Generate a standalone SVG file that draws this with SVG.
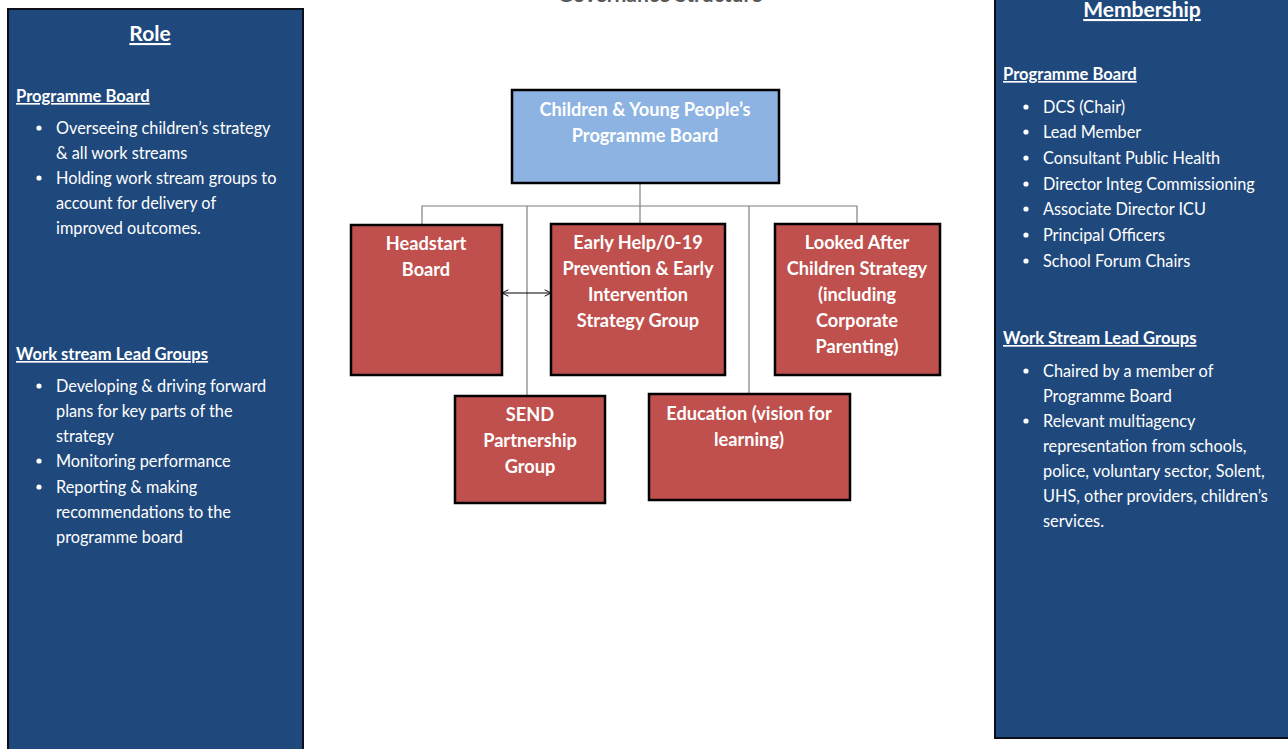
<svg xmlns="http://www.w3.org/2000/svg" width="1288" height="749" viewBox="0 0 1288 749">
  <defs>
    <marker id="arrow" viewBox="0 0 10 10" refX="9" refY="5" markerWidth="8" markerHeight="8" orient="auto-start-reverse" markerUnits="userSpaceOnUse">
      <path d="M1,1 L9,5 L1,9" fill="none" stroke="#000" stroke-width="1.2"/>
    </marker>
  </defs>
  <style>
    .panel { fill: #1F497D; stroke: #0a0f1a; stroke-width: 2; }
    .head { font-family: Lato, "Open Sans", sans-serif; font-weight: bold; fill: #fff; text-decoration: underline; }
    .item { font-family: Lato, "Open Sans", sans-serif; font-size: 16.3px; fill: #fff; }
    .dot { fill: #fff; }
    .blue { fill: #8DB3E2; stroke: #000; stroke-width: 2.5; }
    .red { fill: #C0504D; stroke: #000; stroke-width: 2.5; }
    .lbl { font-family: Lato, "Open Sans", sans-serif; font-size: 18.2px; font-weight: bold; fill: #fff; text-anchor: middle; }
    .conn { stroke: #7f7f7f; stroke-width: 1.2; fill: none; }
  </style>

  <rect width="1288" height="749" fill="#fff"/>

  <!-- page title, mostly above the top edge -->
  <text x="660" y="2" font-family="Lato, 'Open Sans', sans-serif" font-size="21" font-weight="bold" fill="#595959" text-anchor="middle">Governance Structure</text>

  <!-- left panel: roles -->
  <g id="role-panel">
    <rect class="panel" x="8" y="9" width="295" height="750"/>
    <text class="head" x="150" y="41" font-size="21" text-anchor="middle">Role</text>
    <text class="head" x="16" y="102" font-size="16.6">Programme Board</text>
    <circle class="dot" cx="39" cy="128" r="2.6"/>
    <text class="item" x="56" y="134">Overseeing children’s strategy</text>
    <text class="item" x="56" y="159">&amp; all work streams</text>
    <circle class="dot" cx="39" cy="178" r="2.6"/>
    <text class="item" x="56" y="184">Holding work stream groups to</text>
    <text class="item" x="56" y="209">account for delivery of</text>
    <text class="item" x="56" y="234">improved outcomes.</text>
    <text class="head" x="16" y="360" font-size="16.6">Work stream Lead Groups</text>
    <circle class="dot" cx="39" cy="386" r="2.6"/>
    <text class="item" x="56" y="392">Developing &amp; driving forward</text>
    <text class="item" x="56" y="417">plans for key parts of the</text>
    <text class="item" x="56" y="442">strategy</text>
    <circle class="dot" cx="39" cy="461" r="2.6"/>
    <text class="item" x="56" y="467">Monitoring performance</text>
    <circle class="dot" cx="39" cy="487" r="2.6"/>
    <text class="item" x="56" y="493">Reporting &amp; making</text>
    <text class="item" x="56" y="518">recommendations to the</text>
    <text class="item" x="56" y="543">programme board</text>
  </g>

  <!-- right panel: membership -->
  <g id="membership-panel">
    <rect class="panel" x="995" y="-20" width="300" height="758"/>
    <text class="head" x="1142" y="17" font-size="21" text-anchor="middle">Membership</text>
    <text class="head" x="1003" y="80" font-size="16.6">Programme Board</text>
    <circle class="dot" cx="1026" cy="107" r="2.6"/>
    <text class="item" x="1043" y="113">DCS (Chair)</text>
    <circle class="dot" cx="1026" cy="132" r="2.6"/>
    <text class="item" x="1043" y="138">Lead Member</text>
    <circle class="dot" cx="1026" cy="158" r="2.6"/>
    <text class="item" x="1043" y="164">Consultant Public Health</text>
    <circle class="dot" cx="1026" cy="184" r="2.6"/>
    <text class="item" x="1043" y="190">Director Integ Commissioning</text>
    <circle class="dot" cx="1026" cy="209" r="2.6"/>
    <text class="item" x="1043" y="215">Associate Director ICU</text>
    <circle class="dot" cx="1026" cy="235" r="2.6"/>
    <text class="item" x="1043" y="241">Principal Officers</text>
    <circle class="dot" cx="1026" cy="261" r="2.6"/>
    <text class="item" x="1043" y="267">School Forum Chairs</text>
    <text class="head" x="1003" y="344" font-size="16.6">Work Stream Lead Groups</text>
    <circle class="dot" cx="1026" cy="371" r="2.6"/>
    <text class="item" x="1043" y="377">Chaired by a member of</text>
    <text class="item" x="1043" y="402">Programme Board</text>
    <circle class="dot" cx="1026" cy="421" r="2.6"/>
    <text class="item" x="1043" y="427">Relevant multiagency</text>
    <text class="item" x="1043" y="452">representation from schools,</text>
    <text class="item" x="1043" y="477">police, voluntary sector, Solent,</text>
    <text class="item" x="1043" y="502">UHS, other providers, children’s</text>
    <text class="item" x="1043" y="527">services.</text>
  </g>

  <!-- connectors -->
  <g id="connectors">
    <path class="conn" d="M640,183 V206"/>
    <path class="conn" d="M422,225 V206 H857 V224"/>
    <path class="conn" d="M640,206 V224"/>
    <path class="conn" d="M527,206 V396"/>
    <path class="conn" d="M749,206 V394"/>
    <line x1="502" y1="293" x2="551" y2="293" stroke="#000" stroke-width="1" marker-start="url(#arrow)" marker-end="url(#arrow)"/>
  </g>

  <g id="programme-board">
    <rect class="blue" x="512" y="90" width="267" height="93"/>
    <text class="lbl" x="645" y="116">Children &amp; Young People’s</text>
    <text class="lbl" x="645" y="142">Programme Board</text>
  </g>

  <g id="headstart-board">
    <rect class="red" x="351" y="225" width="151" height="150"/>
    <text class="lbl" x="426" y="250">Headstart</text>
    <text class="lbl" x="426" y="276">Board</text>
  </g>

  <g id="early-help">
    <rect class="red" x="551" y="224" width="174" height="151"/>
    <text class="lbl" x="638" y="249">Early Help/0-19</text>
    <text class="lbl" x="638" y="275">Prevention &amp; Early</text>
    <text class="lbl" x="638" y="301">Intervention</text>
    <text class="lbl" x="638" y="327">Strategy Group</text>
  </g>

  <g id="looked-after">
    <rect class="red" x="775" y="224" width="165" height="151"/>
    <text class="lbl" x="857" y="249">Looked After</text>
    <text class="lbl" x="857" y="275">Children Strategy</text>
    <text class="lbl" x="857" y="301">(including</text>
    <text class="lbl" x="857" y="327">Corporate</text>
    <text class="lbl" x="857" y="353">Parenting)</text>
  </g>

  <g id="send-partnership">
    <rect class="red" x="455" y="396" width="150" height="107"/>
    <text class="lbl" x="530" y="421">SEND</text>
    <text class="lbl" x="530" y="447">Partnership</text>
    <text class="lbl" x="530" y="473">Group</text>
  </g>

  <g id="education">
    <rect class="red" x="649" y="394" width="201" height="106"/>
    <text class="lbl" x="749" y="420">Education (vision for</text>
    <text class="lbl" x="749" y="446">learning)</text>
  </g>
</svg>
